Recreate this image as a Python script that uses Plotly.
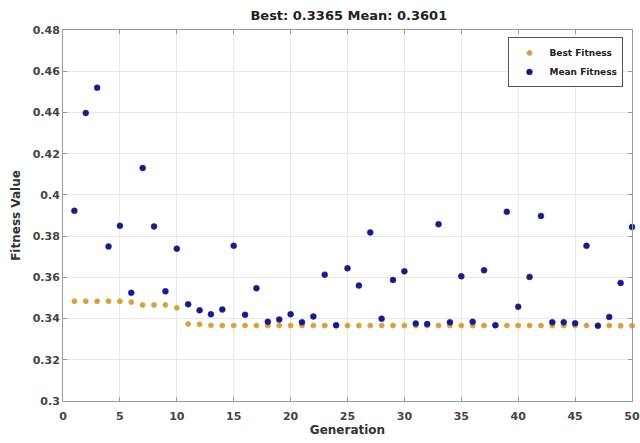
import plotly.graph_objects as go

generations = list(range(1, 51))
best_fitness = [0.3484, 0.3484, 0.3484, 0.3484, 0.3484, 0.3480, 0.3466, 0.3466, 0.3466, 0.3452,
                0.3374, 0.3372, 0.3367, 0.3366, 0.3366, 0.3366, 0.3366, 0.3366, 0.3366, 0.3366,
                0.3366, 0.3366, 0.3366, 0.3366, 0.3366, 0.3366, 0.3366, 0.3366, 0.3366, 0.3366,
                0.3366, 0.3366, 0.3366, 0.3366, 0.3366, 0.3366, 0.3366, 0.3366, 0.3366, 0.3366,
                0.3366, 0.3366, 0.3366, 0.3366, 0.3366, 0.3366, 0.3366, 0.3366, 0.3365, 0.3365]
mean_fitness = [0.3923, 0.4397, 0.4520, 0.3750, 0.3850, 0.3525, 0.4130, 0.3847, 0.3532, 0.3739,
                0.3469, 0.3440, 0.3421, 0.3444, 0.3753, 0.3418, 0.3547, 0.3384, 0.3395, 0.3421,
                0.3382, 0.3410, 0.3613, 0.3368, 0.3644, 0.3560, 0.3818, 0.3399, 0.3587, 0.3629,
                0.3376, 0.3373, 0.3858, 0.3382, 0.3605, 0.3384, 0.3634, 0.3368, 0.3918, 0.3457,
                0.3602, 0.3898, 0.3382, 0.3382, 0.3377, 0.3753, 0.3365, 0.3408, 0.3573, 0.3844]
x_ticks = [0, 5, 10, 15, 20, 25, 30, 35, 40, 45, 50]
y_ticks = [0.3, 0.32, 0.34, 0.36, 0.38, 0.4, 0.42, 0.44, 0.46, 0.48]
y_tick_text = ["0.3", "0.32", "0.34", "0.36", "0.38", "0.4", "0.42", "0.44", "0.46", "0.48"]

FONT = "DejaVu Sans, Arial"

fig = go.Figure()
fig.add_trace(go.Scatter(
    x=generations, y=best_fitness, mode="markers", name="<b>Best Fitness</b>",
    cliponaxis=False,
    marker=dict(size=5, color="#c8a060", line=dict(color="#f0a830", width=1)),
))
fig.add_trace(go.Scatter(
    x=generations, y=mean_fitness, mode="markers", name="<b>Mean Fitness</b>",
    cliponaxis=False,
    marker=dict(size=6, color="#1a1a80", line=dict(color="#2a2aa0", width=0.5)),
))

axis_common = dict(
    showline=True, linecolor="#9a9a9a", linewidth=1, mirror="ticks",
    ticks="inside", ticklen=4, tickcolor="#9a9a9a",
    showgrid=True, gridcolor="#e8e8e8", gridwidth=1, zeroline=False,
    tickfont=dict(family=FONT, size=11, color="#444444", weight="bold"),
)

fig.update_layout(
    width=640, height=443,
    margin=dict(l=63, r=8, t=30, b=42, autoexpand=False),
    paper_bgcolor="white", plot_bgcolor="white",
    title=dict(text="<b>Best: 0.3365 Mean: 0.3601</b>", x=0.545, xanchor="center",
               y=0.964, yanchor="middle",
               font=dict(family=FONT, size=13, color="#222222")),
    xaxis=dict(range=[0, 50], tickvals=x_ticks, ticklabelstandoff=5,
               title=dict(text="<b>Generation</b>", standoff=3,
                          font=dict(family=FONT, size=12, color="#333333")),
               **axis_common),
    yaxis=dict(range=[0.3, 0.48], tickvals=y_ticks, ticktext=y_tick_text,
               title=dict(text="<b>Fitness Value</b>", standoff=9,
                          font=dict(family=FONT, size=12, color="#333333")),
               **axis_common),
    legend=dict(x=0.985, y=0.98, xanchor="right", yanchor="top",
                bgcolor="white", bordercolor="#555555", borderwidth=1,
                font=dict(family=FONT, size=9, color="#222222"),
                tracegroupgap=0, itemwidth=30),
    showlegend=True,
)

fig.write_html("out.html", config={"displayModeBar": False},
               post_script="document.body.style.margin='0';")
